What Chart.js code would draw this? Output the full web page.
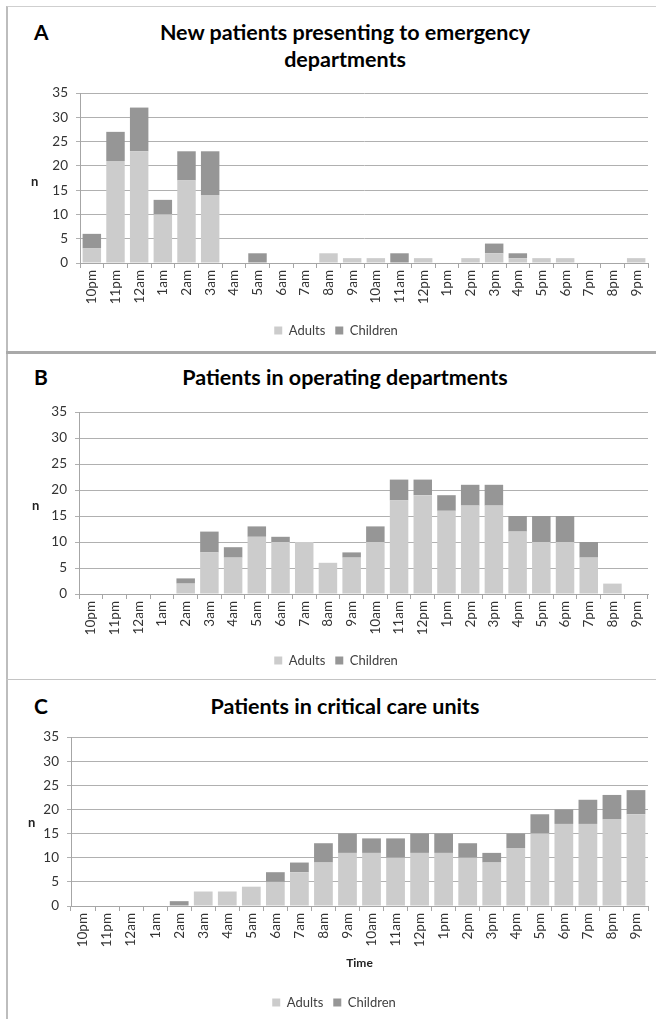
<!DOCTYPE html>
<html>
<head>
<meta charset="utf-8">
<script src="https://cdn.jsdelivr.net/npm/chart.js@4"></script>
<style>
  body { margin: 0; background: #fff; width: 656px; height: 1019px; overflow: hidden; position: relative; font-family: Lato, sans-serif; }
  .frame { position: absolute; left: 6px; top: 6px; width: 700px; height: 1020px; border-left: 2px solid #bdbdbd; border-top: 1px solid #cfcfcf; }
  .sep1 { position: absolute; left: 6px; top: 351px; width: 700px; height: 3px; background: #a9a9a9; }
  .sep2 { position: absolute; left: 6px; top: 679px; width: 700px; height: 1px; background: #c4c4c4; }
  .box { position: absolute; left: 8px; width: 648px; }
  .letter { position: absolute; left: 34px; font-weight: bold; font-size: 21px; color: #000; }
  .title { position: absolute; left: 125px; width: 440px; text-align: center; font-weight: bold; font-size: 21.5px; line-height: 27px; color: #000; }
  .ylab { position: absolute; font-weight: bold; font-size: 13px; color: #222; }
</style>
</head>
<body>
<div class="frame"></div>
<div class="sep1"></div>
<div class="sep2"></div>

<div class="letter" style="top:19px">A</div>
<div class="title" style="top:19px">New patients presenting to emergency<br>departments</div>
<div class="box" style="top:8px;height:343px"><canvas id="chartA"></canvas></div>
<div class="ylab" style="left:31px;top:173px">n</div>

<div class="letter" style="top:364px">B</div>
<div class="title" style="top:364px">Patients in operating departments</div>
<div class="box" style="top:355px;height:323px"><canvas id="chartB"></canvas></div>
<div class="ylab" style="left:32px;top:497px">n</div>

<div class="letter" style="top:693px">C</div>
<div class="title" style="top:693px">Patients in critical care units</div>
<div class="box" style="top:681px;height:338px"><canvas id="chartC"></canvas></div>
<div class="ylab" style="left:28px;top:814px">n</div>

<script>
const hours = ['10pm','11pm','12am','1am','2am','3am','4am','5am','6am','7am','8am','9am',
               '10am','11am','12pm','1pm','2pm','3pm','4pm','5pm','6pm','7pm','8pm','9pm'];

// A: emergency departments
const edAdults   = [3,21,23,10,17,14,0,0,0,0,2,1,1,0,1,0,1,2,1,1,1,0,0,1];
const edChildren = [3,6,9,3,6,9,0,2,0,0,0,0,0,2,0,0,0,2,1,0,0,0,0,0];

// B: operating departments
const orAdults   = [0,0,0,0,2,8,7,11,10,10,6,7,10,18,19,16,17,17,12,10,10,7,2,0];
const orChildren = [0,0,0,0,1,4,2,2,1,0,0,1,3,4,3,3,4,4,3,5,5,3,0,0];

// C: critical care units
const icuAdults   = [0,0,0,0,0,3,3,4,5,7,9,11,11,10,11,11,10,9,12,15,17,17,18,19];
const icuChildren = [0,0,0,0,1,0,0,0,2,2,4,4,3,4,4,4,3,2,3,4,3,5,5,5];

const yMax = 35;
const yStep = 5;

Chart.defaults.font.family = 'Lato, sans-serif';
Chart.defaults.font.size = 13;
Chart.defaults.color = '#404040';

function makeChart(id, adults, children, o) {
  new Chart(document.getElementById(id), {
    type: 'bar',
    data: {
      labels: hours,
      datasets: [
        { label: 'Adults', data: adults, backgroundColor: '#cccccc' },
        { label: 'Children', data: children, backgroundColor: '#969696' }
      ]
    },
    options: {
      responsive: true,
      maintainAspectRatio: false,
      animation: false,
      barPercentage: 0.78,
      categoryPercentage: 1,
      layout: { padding: { top: o.top, left: o.left, right: 8, bottom: o.bottom } },
      plugins: {
        tooltip: { enabled: false },
        legend: {
          position: 'bottom',
          labels: { boxWidth: 8, boxHeight: 8, padding: 10, font: { size: 13 }, color: '#404040' }
        }
      },
      scales: {
        x: {
          stacked: true,
          afterFit: s => { s.height = o.xHeight; },
          grid: { drawOnChartArea: false, tickLength: 5, color: '#a6a6a6' },
          border: { color: '#a6a6a6' },
          ticks: { minRotation: 90, maxRotation: 90, autoSkip: false, padding: 2, color: '#333', font: { size: 13.5 } },
          title: o.time
            ? { display: true, text: 'Time', font: { weight: 'bold', size: 12 }, color: '#222', padding: { top: 4, bottom: 16 } }
            : { display: false }
        },
        y: {
          stacked: true,
          min: 0,
          max: yMax,
          afterFit: s => { s.width = o.yWidth; },
          ticks: { stepSize: yStep, padding: 8, color: '#333', font: { size: 13.5 } },
          grid: { color: '#b0b0b0', tickLength: 4 },
          border: { color: '#a6a6a6' }
        }
      }
    }
  });
}

makeChart('chartA', edAdults, edChildren, { top: 85, left: 16, bottom: 4, yWidth: 56, xHeight: 51, time: false });
makeChart('chartB', orAdults, orChildren, { top: 57, left: 16, bottom: 1, yWidth: 55, xHeight: 50, time: false });
makeChart('chartC', icuAdults, icuChildren, { top: 56, left: 12, bottom: 0, yWidth: 51, xHeight: 80, time: true });
</script>
</body>
</html>
